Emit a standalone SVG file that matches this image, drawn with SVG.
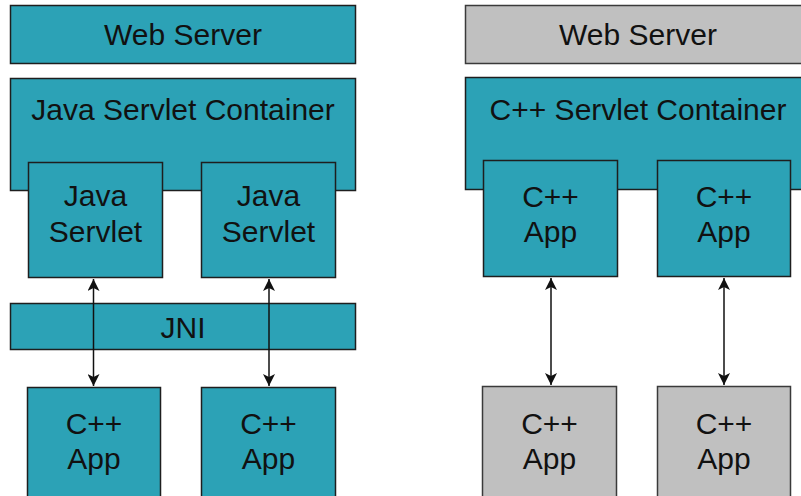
<svg xmlns="http://www.w3.org/2000/svg" width="801" height="496" viewBox="0 0 801 496">
<style>
.t{fill:#2ca2b6;stroke:#1e1e1e;stroke-width:1.5}
.g{fill:#c0c0c0;stroke:#3a3a3a;stroke-width:1.5}
text{font-family:"Liberation Sans",Arial,sans-serif;font-size:30px;fill:#111;text-anchor:middle}
.c line{stroke:#111;stroke-width:1.5}
</style>
<defs>
<marker id="ah" viewBox="0 0 12 12" refX="12" refY="6" markerWidth="12" markerHeight="12" markerUnits="userSpaceOnUse" orient="auto-start-reverse">
<path d="M0,0 L12,6 L0,12 L3,6 Z" fill="#111"/>
</marker>
</defs>
<rect width="801" height="496" fill="#fff"/>
<g id="left">
<g id="web-server-l"><rect class="t" x="10.5" y="5.5" width="345" height="58"/><text x="183" y="45">Web Server</text></g>
<g id="java-container"><rect class="t" x="10.5" y="78.5" width="345" height="112"/><text x="183" y="120">Java Servlet Container</text></g>
<g id="java-servlet-1"><rect class="t" x="28.5" y="162.5" width="134" height="115"/><text x="95.5" y="206">Java</text><text x="95.5" y="242">Servlet</text></g>
<g id="java-servlet-2"><rect class="t" x="201.5" y="162.5" width="134" height="115"/><text x="268.5" y="206">Java</text><text x="268.5" y="242">Servlet</text></g>
<g id="jni"><rect class="t" x="10.5" y="303.5" width="345" height="46"/><text x="183" y="338">JNI</text></g>
<g id="cpp-app-l1"><rect class="t" x="27.5" y="387.5" width="133" height="130"/><text x="94" y="434">C++</text><text x="94" y="469">App</text></g>
<g id="cpp-app-l2"><rect class="t" x="201.5" y="387.5" width="134" height="130"/><text x="268.5" y="434">C++</text><text x="268.5" y="469">App</text></g>
</g>
<g id="right">
<g id="web-server-r"><rect class="g" x="465.5" y="5.5" width="345" height="58"/><text x="638" y="45">Web Server</text></g>
<g id="cpp-container"><rect class="t" x="465.5" y="77.5" width="345" height="112"/><text x="638" y="120">C++ Servlet Container</text></g>
<g id="cpp-app-r1"><rect class="t" x="483.5" y="160.5" width="134" height="116"/><text x="550.5" y="207">C++</text><text x="550.5" y="242">App</text></g>
<g id="cpp-app-r2"><rect class="t" x="657.5" y="160.5" width="133" height="116"/><text x="724" y="207">C++</text><text x="724" y="242">App</text></g>
<g id="cpp-app-r3"><rect class="g" x="482.5" y="386.5" width="134" height="130"/><text x="549.5" y="434">C++</text><text x="549.5" y="469">App</text></g>
<g id="cpp-app-r4"><rect class="g" x="657.5" y="386.5" width="133" height="130"/><text x="724" y="434">C++</text><text x="724" y="469">App</text></g>
</g>
<g id="connectors" class="c">
<line x1="93.5" y1="279" x2="93.5" y2="386" marker-start="url(#ah)" marker-end="url(#ah)"/>
<line x1="269" y1="279" x2="269" y2="386" marker-start="url(#ah)" marker-end="url(#ah)"/>
<line x1="551" y1="278" x2="551" y2="385" marker-start="url(#ah)" marker-end="url(#ah)"/>
<line x1="724" y1="278" x2="724" y2="385" marker-start="url(#ah)" marker-end="url(#ah)"/>
</g>
</svg>
